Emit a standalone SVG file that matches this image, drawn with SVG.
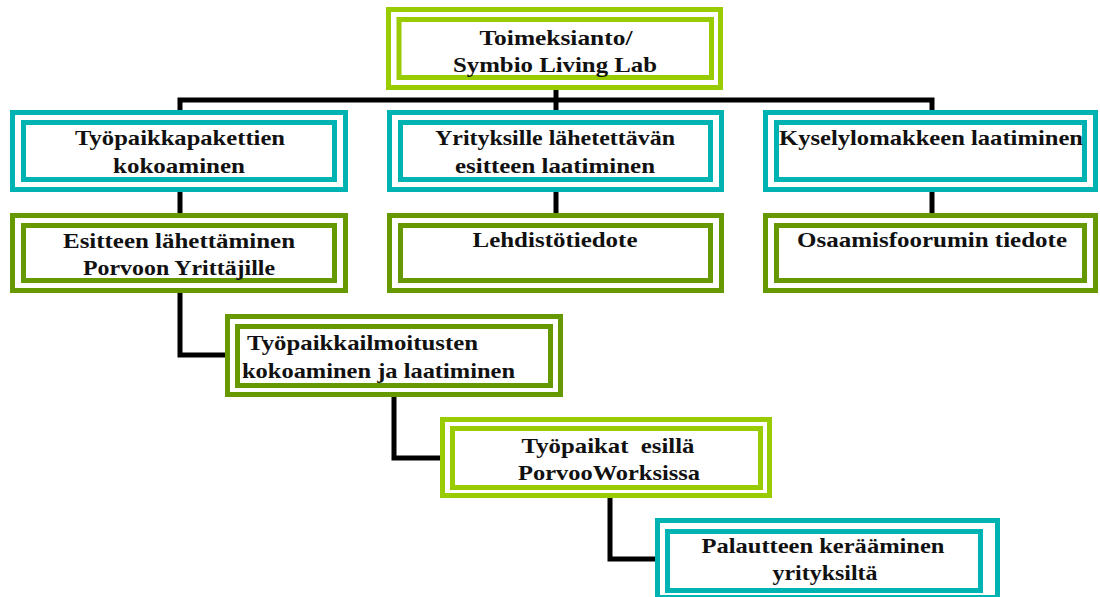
<svg xmlns="http://www.w3.org/2000/svg" width="1100" height="597" viewBox="0 0 1100 597">
<style>
.o{fill:#fff;stroke-width:5}
.i{fill:none;stroke-width:5}
.lime{stroke:#99CC00}
.teal{stroke:#00B3B3}
.olive{stroke:#669900}
text{font-family:"Liberation Serif","Times New Roman",serif;font-weight:bold;font-size:22px;fill:#111;white-space:pre}
.c{text-anchor:middle}
.conn{fill:none;stroke:#000;stroke-width:5;stroke-linejoin:miter;stroke-linecap:butt}
</style>
<rect width="1100" height="597" fill="#fff"/>
<g id="connectors">
<path class="conn" d="M180,110 V100 H932 V110"/>
<path class="conn" d="M556,90 V110"/>
<path class="conn" d="M180,192 V213"/>
<path class="conn" d="M556,192 V213"/>
<path class="conn" d="M932,192 V213"/>
<path class="conn" d="M180,293 V355 H225"/>
<path class="conn" d="M394,397 V458 H440"/>
<path class="conn" d="M610,498 V559 H655"/>
</g>
<g id="n1">
<rect class="o lime" x="388.5" y="9.5" width="332" height="78"/>
<rect class="i lime" x="399" y="19.5" width="312.5" height="58"/>
<text class="c" x="556" y="45" textLength="153" lengthAdjust="spacingAndGlyphs">Toimeksianto/</text>
<text class="c" x="555" y="72" textLength="204" lengthAdjust="spacingAndGlyphs">Symbio Living Lab</text>
</g>
<g id="n2">
<rect class="o teal" x="12.5" y="112.5" width="333" height="77"/>
<rect class="i teal" x="23.5" y="122.5" width="311" height="57"/>
<text class="c" x="180" y="145" textLength="210" lengthAdjust="spacingAndGlyphs">Työpaikkapakettien</text>
<text class="c" x="179" y="173" textLength="132" lengthAdjust="spacingAndGlyphs">kokoaminen</text>
</g>
<g id="n3">
<rect class="o teal" x="389.5" y="112.5" width="332" height="77"/>
<rect class="i teal" x="400.5" y="122.5" width="310" height="57"/>
<text class="c" x="555" y="145" textLength="240" lengthAdjust="spacingAndGlyphs">Yrityksille lähetettävän</text>
<text class="c" x="555" y="173" textLength="200" lengthAdjust="spacingAndGlyphs">esitteen laatiminen</text>
</g>
<g id="n4">
<rect class="o teal" x="765.5" y="112.5" width="330" height="77"/>
<rect class="i teal" x="776.5" y="122.5" width="308" height="57"/>
<text class="c" x="931" y="145" textLength="304" lengthAdjust="spacingAndGlyphs">Kyselylomakkeen laatiminen</text>
</g>
<g id="n5">
<rect class="o olive" x="12.5" y="215.5" width="333" height="75"/>
<rect class="i olive" x="23.5" y="225.5" width="311" height="55"/>
<text class="c" x="179" y="248" textLength="232" lengthAdjust="spacingAndGlyphs">Esitteen lähettäminen</text>
<text class="c" x="179" y="275" textLength="192" lengthAdjust="spacingAndGlyphs">Porvoon Yrittäjille</text>
</g>
<g id="n6">
<rect class="o olive" x="389.5" y="215.5" width="332" height="75"/>
<rect class="i olive" x="400.5" y="225.5" width="310" height="55"/>
<text class="c" x="555" y="247" textLength="165" lengthAdjust="spacingAndGlyphs">Lehdistötiedote</text>
</g>
<g id="n7">
<rect class="o olive" x="765.5" y="215.5" width="330" height="75"/>
<rect class="i olive" x="776.5" y="225.5" width="308" height="55"/>
<text class="c" x="932" y="247" textLength="270" lengthAdjust="spacingAndGlyphs">Osaamisfoorumin tiedote</text>
</g>
<g id="n8">
<rect class="o olive" x="227.5" y="316.5" width="333" height="78"/>
<rect class="i olive" x="237.5" y="326.5" width="313" height="59"/>
<text x="247" y="350" textLength="231" lengthAdjust="spacingAndGlyphs">Työpaikkailmoitusten</text>
<text x="242" y="378" textLength="273" lengthAdjust="spacingAndGlyphs">kokoaminen ja laatiminen</text>
</g>
<g id="n9">
<rect class="o lime" x="442.5" y="419.5" width="327" height="76"/>
<rect class="i lime" x="452.5" y="428.5" width="308" height="59"/>
<text class="c" x="608" y="453" textLength="173" lengthAdjust="spacingAndGlyphs">Työpaikat  esillä</text>
<text class="c" x="609" y="480" textLength="182" lengthAdjust="spacingAndGlyphs">PorvooWorksissa</text>
</g>
<g id="n10">
<rect class="o teal" x="657.5" y="520.5" width="340" height="77"/>
<rect class="i teal" x="667.5" y="531.5" width="313" height="59"/>
<text class="c" x="823" y="553" textLength="243" lengthAdjust="spacingAndGlyphs">Palautteen kerääminen</text>
<text class="c" x="825" y="580" textLength="105" lengthAdjust="spacingAndGlyphs">yrityksiltä</text>
</g>
</svg>
